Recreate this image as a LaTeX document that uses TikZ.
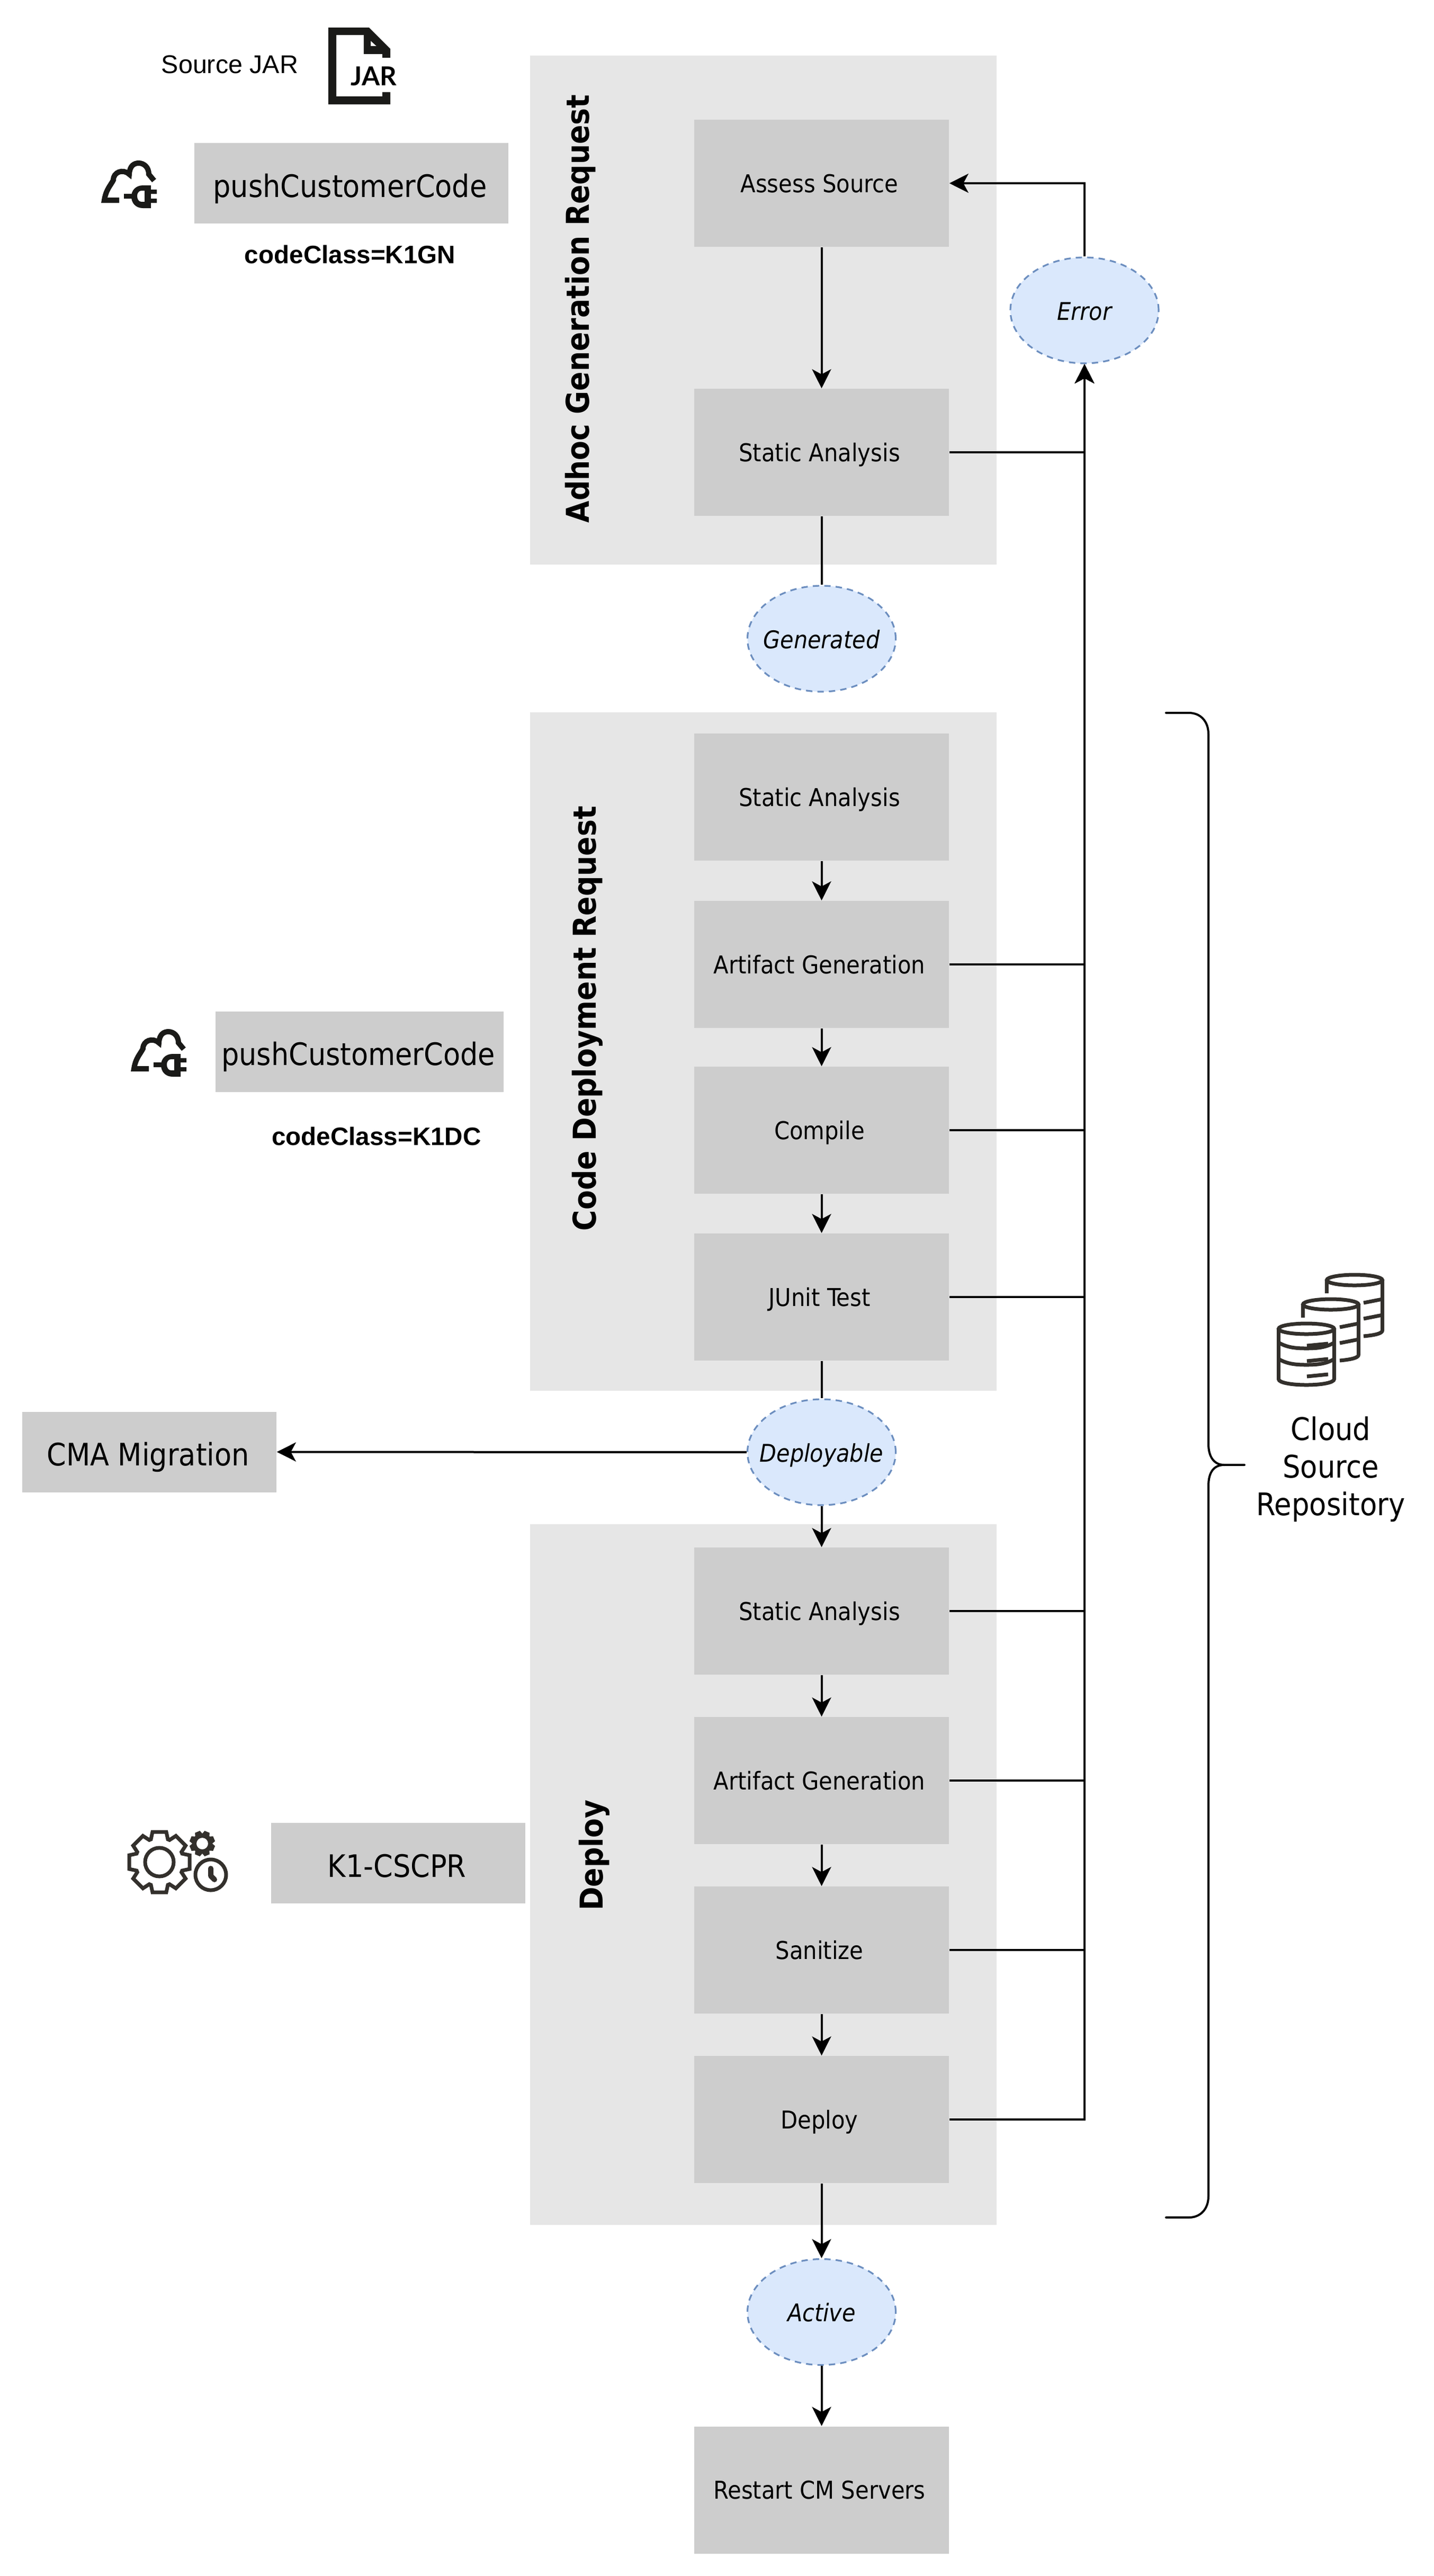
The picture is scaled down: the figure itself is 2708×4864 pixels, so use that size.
\documentclass[tikz,border=0pt]{standalone}
\usepackage{fontspec}
\usetikzlibrary{arrows.meta,shapes.geometric}
\setmainfont{Liberation Sans}
\newfontfamily\tah{DejaVu Sans Condensed}
\newfontfamily\lat{Lato}
\definecolor{grpfill}{HTML}{E6E6E6}
\definecolor{boxfill}{HTML}{CDCDCD}
\definecolor{ellfill}{HTML}{DAE8FC}
\definecolor{elldraw}{HTML}{6C8EBF}
\definecolor{icona}{HTML}{1A1A18}
\definecolor{iconb}{HTML}{33302C}
\newcommand{\stlabel}[1]{\makebox[0pt]{#1}}
\tikzset{
  title/.style={rotate=90,font=\tah\fontsize{14.9pt}{18pt}\selectfont\bfseries,inner sep=0pt},
  stepbox/.style={fill=boxfill,draw=none,inner sep=0pt,minimum width=120.25pt,minimum height=60pt,text height=8.5pt,text depth=0pt,font=\tah\fontsize{11.6pt}{14pt}\selectfont},
  widebox/.style={fill=boxfill,draw=none,inner sep=0pt,minimum height=38pt,text height=13pt,text depth=0pt,font=\tah\fontsize{14.6pt}{18pt}\selectfont},
  state/.style={ellipse,fill=ellfill,draw=elldraw,line width=0.8pt,dash pattern=on 3pt off 2.4pt,inner sep=0pt,minimum width=70pt,minimum height=50pt,text height=9pt,text depth=0pt,font=\tah\fontsize{11.5pt}{14pt}\selectfont\itshape},
  conn/.style={draw=black,line width=1pt,-{Stealth[length=9pt,width=9pt,inset=2.4pt]}},
  plainline/.style={draw=black,line width=1pt},
  arial/.style={inner sep=0pt,font=\fontsize{12.1pt}{15pt}\selectfont},
  arialb/.style={inner sep=0pt,font=\fontsize{11.9pt}{15pt}\selectfont\bfseries},
  dbline/.style={draw=iconb,line width=1.75pt,line cap=butt},
}
\newcommand{\plugicon}{%
  \draw[draw=icona,line width=2.5pt,line cap=butt,line join=miter]
    (225,378)--(197,378) .. controls (200,358) and (209,350) .. (214,340)
    .. controls (214,325) and (232,318) .. (244,329)
    .. controls (245,312) and (254,308) .. (262,308)
    .. controls (272,308) and (281,316) .. (281,329) -- (291,341);
  \fill[icona,even odd rule] (285,350) -- (270,350) .. controls (256,350) and (248,360) .. (248,371)
    .. controls (248,383) and (256,393) .. (270,393) -- (285,393) -- cycle
    (273,360) -- (267,360) .. controls (262,360) and (259,365) .. (259,370)
    .. controls (259,376) and (262,381) .. (267,381) -- (273,381) -- cycle;
  \fill[icona] (284,358) rectangle (296,366) (284,375) rectangle (296,383) (234,366) rectangle (249,375);
}
\newcommand{\rearcyl}{%
  \draw[dbline] (2467,2509) ellipse [x radius=52.5,y radius=10];
  \draw[dbline] (2414.5,2509) -- (2414.5,2534);
  \draw[dbline] (2519.5,2509) -- (2519.5,2604) .. controls (2519.5,2610) and (2505,2613) .. (2484,2615);
  \draw[dbline] (2484,2552) -- (2519.5,2545);
  \draw[dbline] (2484,2582) -- (2519.5,2575);
}
\begin{document}
\begin{tikzpicture}[x=0.25pt,y=-0.25pt]
\useasboundingbox (0,0) rectangle (2708,4864);
% groups
\fill[grpfill] (1001,105) rectangle (1882,1066);
\fill[grpfill] (1001,1345) rectangle (1882,2626);
\fill[grpfill] (1001,2878) rectangle (1882,4201);
\node[title] (t1) at (1096,583) {Adhoc Generation Request};
\node[title] (t2) at (1109,1923) {Code Deployment Request};
\node[title] (t3) at (1122,3503) {Deploy};
% steps
\node[stepbox] (assess) at (1551.5,346) {\hspace{-2pt}Assess Source};
\node[stepbox] (st1) at (1551.5,854) {\hspace{-2pt}Static Analysis};
\node[stepbox] (st2) at (1551.5,1505) {\hspace{-2pt}Static Analysis};
\node[stepbox] (art2) at (1551.5,1821) {\hspace{-2pt}Artifact Generation};
\node[stepbox] (comp) at (1551.5,2134) {\hspace{-2pt}Compile};
\node[stepbox] (junit) at (1551.5,2449) {\hspace{-2pt}JUnit Test};
\node[stepbox] (st3) at (1551.5,3042) {\hspace{-2pt}Static Analysis};
\node[stepbox] (art3) at (1551.5,3362) {\hspace{-2pt}Artifact Generation};
\node[stepbox] (san) at (1551.5,3682) {\hspace{-2pt}Sanitize};
\node[stepbox] (dep) at (1551.5,4002) {\hspace{-2pt}Deploy};
\node[stepbox] (restart) at (1551.5,4701.5) {\hspace{-2pt}Restart CM Servers};
% states
\node[state] (gen) at (1551.5,1206) {\stlabel{Generated}};
\node[state] (dpl) at (1551.5,2742) {\stlabel{Deployable}};
\node[state] (act) at (1551.5,4365.5) {\stlabel{Active}};
\node[state] (err) at (2048,586) {\stlabel{Error}};
% left boxes
\node[widebox,minimum width=148.25pt] (pc1) at (663.5,346) {\hspace{-1.2pt}pushCustomerCode};
\node[widebox,minimum width=136pt] (pc2) at (679,1985.5) {\hspace{-1.2pt}pushCustomerCode};
\node[widebox,minimum width=120pt] (cma) at (282,2741.5) {\hspace{-1.2pt}CMA Migration};
\node[widebox,minimum width=120pt] (k1) at (752,3518) {\hspace{-1.2pt}K1-CSCPR};
\node[arialb] (cc1) at (661,480) {codeClass=K1GN};
\node[arialb] (cc2) at (711,2145) {codeClass=K1DC};
\node[arial] (srcjar) at (434,122) {Source JAR};
% connectors
\draw[conn] (assess.south -| dpl.north) -- (st1.north -| dpl.north);
\draw[plainline] (st1.south) -- (gen.north);
\draw[conn] (st2) -- (art2);
\draw[conn] (art2) -- (comp);
\draw[conn] (comp) -- (junit);
\draw[plainline] (junit.south) -- (dpl.north);
\draw[conn] (dpl.south) -- (st3.north);
\draw[conn] (dpl.west) -- (cma.east);
\draw[conn] (st3) -- (art3);
\draw[conn] (art3) -- (san);
\draw[conn] (san) -- (dep);
\draw[conn] (dep.south) -- (act.north);
\draw[conn] (act.south) -- (restart.north);
\draw[conn] (err.north) |- (assess.east);
\foreach \n in {st1,art2,comp,junit,st3,art3,san,dep}
  \draw[conn] (\n.east) -| (err.south);
% bracket
\draw[draw=black,line width=1pt,line cap=round] (2202,1346) -- (2245,1346) .. controls (2267,1346) and (2282,1362) .. (2282,1386)
  -- (2282,2726) .. controls (2282,2750) and (2292,2766) .. (2312,2766) -- (2350,2766);
\draw[draw=black,line width=1pt,line cap=round] (2312,2766) .. controls (2292,2766) and (2282,2780) .. (2282,2806)
  -- (2282,4147) .. controls (2282,4171) and (2267,4187) .. (2245,4187) -- (2202,4187);
% repo label
\node[font=\tah\fontsize{14.7pt}{17.75pt}\selectfont,align=center,inner sep=0pt] (repo) at (2513,2774) {Cloud\\Source\\Repository};
% JAR icon
\fill[icona,even odd rule] (620,52) -- (697,52) -- (737,92) -- (737,109) -- (722,109) -- (722,102) -- (687,102) -- (687,66) -- (635,66) -- (635,182) -- (722,182) -- (722,174) -- (737,174) -- (737,197) -- (620,197) -- cycle
  (700,77) -- (711,87) -- (700,87) -- cycle;
\node[inner sep=0pt,font=\lat\fontsize{12.3pt}{14pt}\selectfont\bfseries] (jartxt) at (706,144) {JAR};
% plug icons
\begin{scope}\plugicon\end{scope}
\begin{scope}[shift={(56,1640)}]\plugicon\end{scope}
% database icon
\begin{scope}[shift={(91,-92)}]\rearcyl\end{scope}
\begin{scope}[shift={(46,-46)}]\rearcyl\end{scope}
\draw[dbline] (2467,2509) ellipse [x radius=52.5,y radius=10];
\draw[dbline] (2414.5,2509) -- (2414.5,2604) .. controls (2414.5,2611) and (2440,2615) .. (2467,2615) .. controls (2494,2615) and (2519.5,2611) .. (2519.5,2604) -- (2519.5,2509);
\draw[dbline] (2414.5,2535) .. controls (2430,2544) and (2445,2546) .. (2467,2546) .. controls (2489,2546) and (2505,2544) .. (2519.5,2535);
\draw[dbline] (2414.5,2566) .. controls (2430,2575) and (2445,2577) .. (2467,2577) .. controls (2489,2577) and (2505,2575) .. (2519.5,2566);
\draw[dbline] (2468,2541) -- (2508,2537);
\draw[dbline] (2468,2570) -- (2508,2566);
\draw[dbline] (2468,2599) -- (2508,2595);
% gear icon
\draw[draw=iconb,line width=1.75pt,line join=miter]
  ([shift={(301,3516)}]-16,-43) \foreach \a in {0,45,...,315} {-- ([shift={(301,3516)},rotate=-\a]-16,-43) -- ([shift={(301,3516)},rotate=-\a]-13,-57) -- ([shift={(301,3516)},rotate=-\a]13,-57) -- ([shift={(301,3516)},rotate=-\a]16,-43)} -- cycle;
\draw[draw=iconb,line width=1.75pt] (301,3516) circle [radius=27];
\fill[iconb,even odd rule] ([shift={(382,3481)},rotate=-22.5]-7,-18) \foreach \a in {22.5,67.5,...,337.5} {-- ([shift={(382,3481)},rotate=-\a]-7,-18) -- ([shift={(382,3481)},rotate=-\a]-5,-24) -- ([shift={(382,3481)},rotate=-\a]5,-24) -- ([shift={(382,3481)},rotate=-\a]7,-18)} -- cycle
  (382,3481) circle [radius=11];
\draw[draw=iconb,line width=1.75pt] (398,3540) circle [radius=29];
\draw[draw=iconb,line width=2.5pt,line cap=round,line join=round] (398,3528) -- (398,3542) -- (405,3549);
\end{tikzpicture}
\end{document}
